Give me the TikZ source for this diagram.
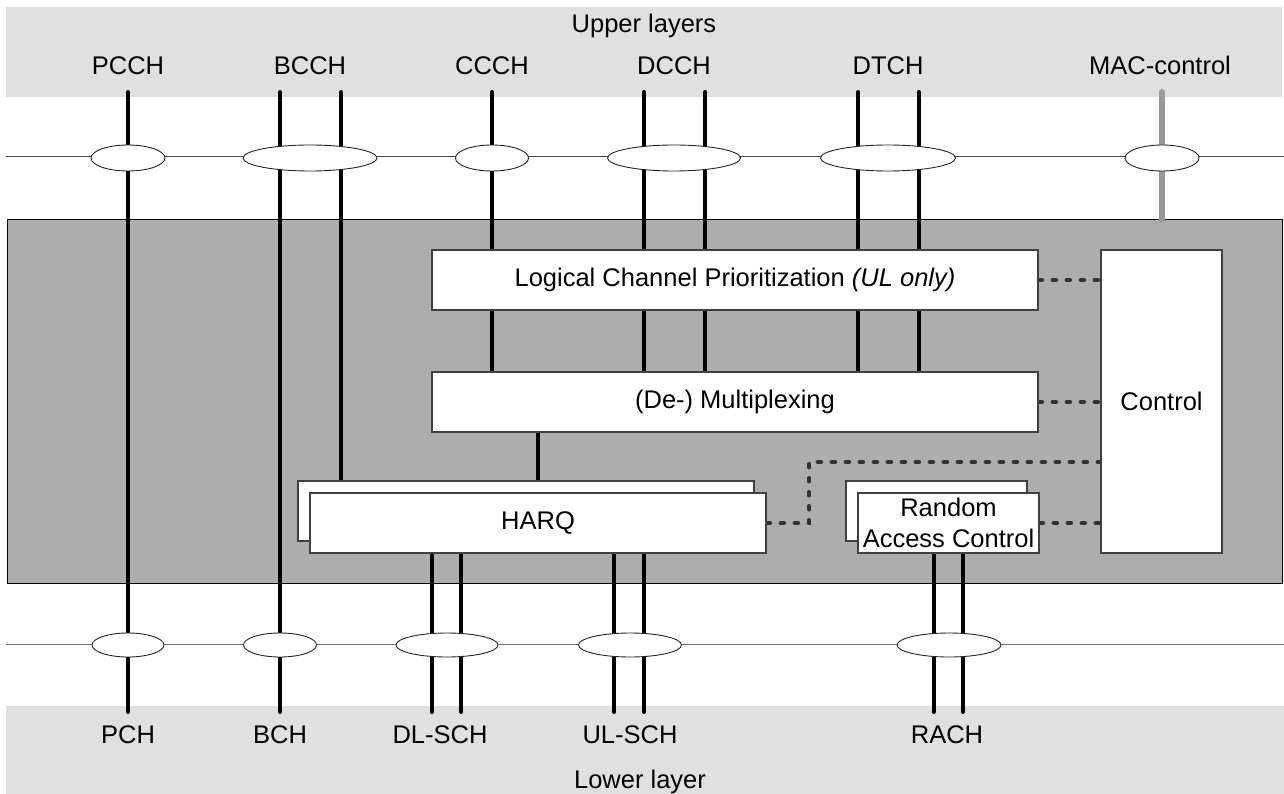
\documentclass[tikz,border=0pt]{standalone}
\usepackage{fontspec}
\setmainfont{Liberation Sans}
\usetikzlibrary{shapes.geometric}

\definecolor{layergray}{HTML}{E0E0E0}
\definecolor{macgray}{HTML}{ADADAD}
\definecolor{ctrlgray}{HTML}{999999}
\definecolor{dotgray}{HTML}{333333}

\pgfdeclarelayer{front}
\pgfsetlayers{main,front}

\begin{document}
\begin{tikzpicture}[x=1pt,y=-1pt]
        \tikzstyle{every node}=[font=\fontsize{25.5}{31}\selectfont]
        \tikzstyle{layerband}=[fill=layergray]
        \tikzstyle{block}=[draw=black!75, fill=white, line width=1.2pt, inner sep=0pt]
        \tikzstyle{chan}=[line width=4pt, line cap=round]
        \tikzstyle{sap}=[ellipse, draw=black!85, fill=white, line width=0.9pt, minimum height=26, inner sep=0pt]
        \tikzstyle{sapline}=[line width=1pt, draw=black!70]
        \tikzstyle{ctrlline}=[line width=4pt, draw=dotgray, line cap=round, dash pattern=on 3.5pt off 10.5pt]

        \useasboundingbox (0,0) rectangle (1284,794);

        % upper and lower layers
        \fill[layerband] (6,7) rectangle (1282,97);
        \fill[layerband] (6,706) rectangle (1284,794);
        \node[anchor=base] (upper) at (644,33) {Upper layers};
        \node[anchor=base] (lower) at (640,788) {Lower layer};

        % MAC entity
        \draw[fill=macgray, line width=0.8pt] (7,219) rectangle (1282,583);

        % logical channels
        \node[anchor=base] (pcch) at (128,75) {PCCH};
        \node[anchor=base] (bcch) at (310,75) {BCCH};
        \node[anchor=base] (ccch) at (492,75) {CCCH};
        \node[anchor=base] (dcch) at (674,75) {DCCH};
        \node[anchor=base] (dtch) at (888,75) {DTCH};
        \node[anchor=base] (macctrl) at (1160,75) {MAC-control};

        % transport channels
        \node[anchor=base] (pch) at (128,743) {PCH};
        \node[anchor=base] (bch) at (280,743) {BCH};
        \node[anchor=base] (dlsch) at (440,743) {DL-SCH};
        \node[anchor=base] (ulsch) at (630,743) {UL-SCH};
        \node[anchor=base] (rach) at (947,743) {RACH};

        % service access points
        \draw[sapline] (6,157) -- (1284,157);
        \draw[sapline, draw=black!55] (6,644) -- (1284,644);

        \begin{pgfonlayer}{front}
            \node[sap, minimum width=74] (pcch-sap) at (128,158) {};
            \node[sap, minimum width=134] (bcch-sap) at (310,158) {};
            \node[sap, minimum width=73] (ccch-sap) at (492,158) {};
            \node[sap, minimum width=133] (dcch-sap) at (674,158) {};
            \node[sap, minimum width=135] (dtch-sap) at (888,158) {};
            \node[sap, minimum width=74] (macctrl-sap) at (1162,158) {};

            \node[sap, minimum width=72, minimum height=24] (pch-sap) at (128,645) {};
            \node[sap, minimum width=73, minimum height=24] (bch-sap) at (280,645) {};
            \node[sap, minimum width=102, minimum height=24] (dlsch-sap) at (447,645) {};
            \node[sap, minimum width=103, minimum height=24] (ulsch-sap) at (630,645) {};
            \node[sap, minimum width=104, minimum height=24] (rach-sap) at (949,645) {};
        \end{pgfonlayer}

        % MAC blocks
        \begin{pgfonlayer}{front}
            \node[block, minimum width=606, minimum height=60] (lcp) at (735,280) {Logical Channel Prioritization \textit{(UL only)}};
            \node[block, minimum width=606, minimum height=60] (mux) at (735,402) {(De-) Multiplexing};
            \node[block, minimum width=121, minimum height=303] (ctrl) at (1161.5,401.5) {Control};
            \node[block, minimum width=456, minimum height=60] (harq-back) at (526,511) {};
            \node[block, minimum width=456, minimum height=60] (harq) at (538,523) {HARQ};
            \node[block, minimum width=181, minimum height=60] (rac-back) at (936.5,511) {};
            \node[block, minimum width=181, minimum height=60, align=center] (rac) at (948.5,523) {Random\\Access Control};
        \end{pgfonlayer}

        % channel ends
        \coordinate (pcch-up) at (128,92);
        \coordinate (pcch-down) at (128,712);
        \coordinate (bcch-up) at (280,92);
        \coordinate (bcch-down) at (280,712);
        \coordinate (bcch-up2) at (341,92);
        \coordinate (ccch-up) at (492,92);
        \coordinate (dcch-up) at (644,92);
        \coordinate (dcch-up2) at (705,92);
        \coordinate (dtch-up) at (858,92);
        \coordinate (dtch-up2) at (919,92);
        \coordinate (macctrl-up) at (1162,92);
        \coordinate (dlsch-down) at (431.5,712);
        \coordinate (dlsch-down2) at (461,712);
        \coordinate (ulsch-down) at (614,712);
        \coordinate (ulsch-down2) at (644,712);
        \coordinate (rach-down) at (933.5,712);
        \coordinate (rach-down2) at (963,712);

        % channels
        \draw[chan] (pcch-up) -- (pcch-down);
        \draw[chan] (bcch-up) -- (bcch-down);
        \draw[chan] (bcch-up2) -- (bcch-up2 |- harq-back.north);
        \draw[chan] (ccch-up) -- (ccch-up |- lcp.north);
        \draw[chan] (ccch-up |- lcp.south) -- (ccch-up |- mux.north);
        \draw[chan] (dcch-up) -- (dcch-up |- lcp.north);
        \draw[chan] (dcch-up |- lcp.south) -- (dcch-up |- mux.north);
        \draw[chan] (dcch-up2) -- (dcch-up2 |- lcp.north);
        \draw[chan] (dcch-up2 |- lcp.south) -- (dcch-up2 |- mux.north);
        \draw[chan] (dtch-up) -- (dtch-up |- lcp.north);
        \draw[chan] (dtch-up |- lcp.south) -- (dtch-up |- mux.north);
        \draw[chan] (dtch-up2) -- (dtch-up2 |- lcp.north);
        \draw[chan] (dtch-up2 |- lcp.south) -- (dtch-up2 |- mux.north);
        \draw[chan, line width=6pt, draw=ctrlgray] (macctrl-up) -- (macctrl-up |- 0,220);
        \draw[chan] (harq.north |- mux.south) -- (harq-back.north -| harq.north);
        \draw[chan] (dlsch-down |- harq.south) -- (dlsch-down);
        \draw[chan] (dlsch-down2 |- harq.south) -- (dlsch-down2);
        \draw[chan] (ulsch-down |- harq.south) -- (ulsch-down);
        \draw[chan] (ulsch-down2 |- harq.south) -- (ulsch-down2);
        \draw[chan] (rach-down |- rac.south) -- (rach-down);
        \draw[chan] (rach-down2 |- rac.south) -- (rach-down2);

        % control
        \draw[ctrlline] (lcp.east) -- (lcp.east -| ctrl.west);
        \draw[ctrlline] (mux.east) -- (mux.east -| ctrl.west);
        \draw[ctrlline] (harq.east) -- ++(42.5,0) |- ([yshift=-60.5pt]ctrl.west);
        \draw[ctrlline] (rac.east) -- (rac.east -| ctrl.west);

    \end{tikzpicture}
\end{document}
